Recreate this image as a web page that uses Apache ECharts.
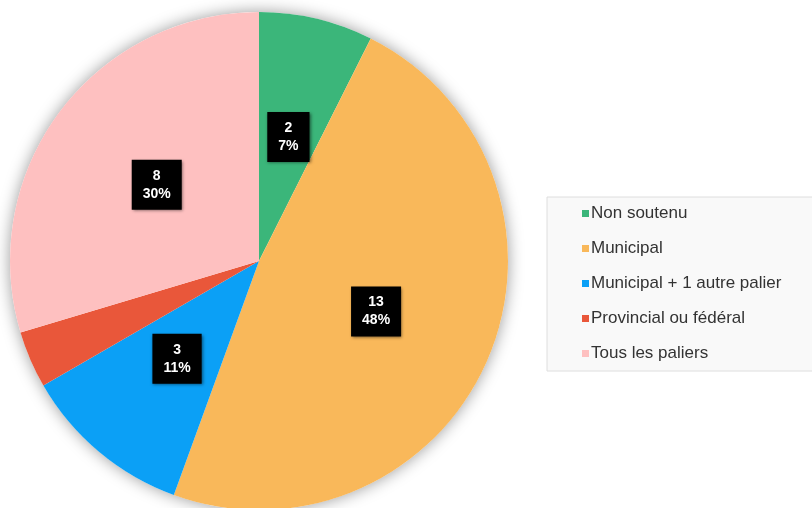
<!DOCTYPE html>
<html>
<head>
<meta charset="utf-8">
<script src="https://cdn.jsdelivr.net/npm/echarts@6/dist/echarts.min.js"></script>
<style>
  html, body { margin: 0; padding: 0; background: #fff; }
  #chart { width: 812px; height: 508px; }
</style>
</head>
<body>
<div id="chart"></div>
<script>
var categories = ["Non soutenu", "Municipal", "Municipal + 1 autre palier", "Provincial ou fédéral", "Tous les paliers"];
var counts = [2, 13, 3, 1, 8];
var colors = ["#3bb67a", "#f9b85a", "#0ba0f6", "#e9573a", "#fec0c0"];

var chartDom = document.getElementById("chart");
var myChart = echarts.init(chartDom);
var option;

var pieData = categories.map(function (name, i) {
  return { name: name, value: counts[i], itemStyle: { color: colors[i] } };
});

option = {
  animation: false,
  textStyle: { fontFamily: "Liberation Sans, Arial, sans-serif" },
  legend: {
    data: categories,
    orient: "vertical",
    left: 547,
    top: 197,
    padding: [8, 60, 9, 35],
    itemWidth: 7,
    itemHeight: 7,
    itemGap: 18,
    icon: "rect",
    backgroundColor: "#f9f9f9",
    borderColor: "#dedede",
    borderWidth: 1,
    textStyle: { fontSize: 17, color: "#333", lineHeight: 16, padding: [0, 0, 0, -3] },
  },
  series: [
    {
      // shadow behind the pie
      type: "pie",
      name: "shadow",
      silent: true,
      center: [259, 261],
      radius: 249,
      z: 1,
      label: { show: false },
      labelLine: { show: false },
      itemStyle: {
        color: "#ffffff",
        shadowBlur: 16,
        shadowColor: "rgba(0,0,0,0.4)",
      },
      data: [{ name: "_bg", value: 1 }],
    },
    {
      type: "pie",
      name: "Soutien",
      center: [259, 261],
      radius: 249,
      startAngle: 90,
      clockwise: true,
      z: 2,
      percentPrecision: 0,
      label: {
        show: true,
        position: "inside",
        formatter: "{c}\n{d}%",
        color: "#fff",
        fontWeight: "bold",
        fontSize: 14,
        lineHeight: 18,
        backgroundColor: "#000",
        padding: [7, 11],
        shadowBlur: 3,
        shadowColor: "rgba(0,0,0,0.5)",
        shadowOffsetX: 1,
        shadowOffsetY: 1,
      },
      labelLine: { show: false },
      emphasis: { scale: false },
      data: pieData,
    },
  ],
};
option && myChart.setOption(option);
</script>
</body>
</html>
